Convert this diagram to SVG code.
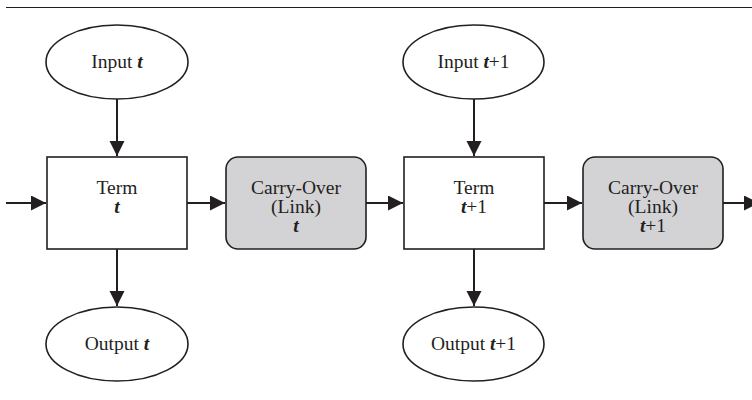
<svg xmlns="http://www.w3.org/2000/svg" width="752" height="400" viewBox="0 0 752 400">
<defs>
<marker id="ah" markerUnits="userSpaceOnUse" markerWidth="16" markerHeight="16" refX="15" refY="7.5" orient="auto">
<path d="M0,0 L15,7.5 L0,15 Z" fill="#231f20"/>
</marker>
<style>
.node{fill:#fff;stroke:#231f20;stroke-width:1.6}
.link{fill:#d3d3d5;stroke:#231f20;stroke-width:1.6}
.lbl{font-family:"Liberation Serif",serif;font-size:19.5px;fill:#231f20;text-anchor:middle}
.v{font-weight:bold;font-style:italic}
.conn line{stroke:#231f20;stroke-width:2;marker-end:url(#ah)}
</style>
</defs>
<rect width="752" height="400" fill="#fff"/>
<line x1="6" y1="7.5" x2="752" y2="7.5" stroke="#231f20" stroke-width="1.2"/>
<g id="input-t"><ellipse class="node" cx="117" cy="62" rx="71" ry="37"/><text class="lbl" x="117" y="68">Input <tspan class="v">t</tspan></text></g>
<g id="input-t1"><ellipse class="node" cx="473.5" cy="62" rx="70.5" ry="37"/><text class="lbl" x="473.5" y="68">Input <tspan class="v">t</tspan>+1</text></g>
<g id="term-t"><rect class="node" x="47" y="157" width="140" height="92"/><text class="lbl" x="117" y="194">Term</text><text class="lbl v" x="117" y="213">t</text></g>
<g id="carry-t"><rect class="link" x="226" y="157" width="140" height="92" rx="12"/><text class="lbl" x="296" y="194">Carry-Over</text><text class="lbl" x="296" y="213">(Link)</text><text class="lbl v" x="296" y="232">t</text></g>
<g id="term-t1"><rect class="node" x="404" y="157" width="140" height="92"/><text class="lbl" x="474" y="194">Term</text><text class="lbl" x="474" y="213"><tspan class="v">t</tspan>+1</text></g>
<g id="carry-t1"><rect class="link" x="583" y="157" width="140" height="92" rx="12"/><text class="lbl" x="653" y="194">Carry-Over</text><text class="lbl" x="653" y="213">(Link)</text><text class="lbl" x="653" y="232"><tspan class="v">t</tspan>+1</text></g>
<g id="output-t"><ellipse class="node" cx="117" cy="344" rx="71" ry="37"/><text class="lbl" x="117" y="350">Output <tspan class="v">t</tspan></text></g>
<g id="output-t1"><ellipse class="node" cx="473.5" cy="344" rx="70.5" ry="37"/><text class="lbl" x="473.5" y="350">Output <tspan class="v">t</tspan>+1</text></g>
<g class="conn" id="connectors">
<line x1="117" y1="99" x2="117" y2="156"/>
<line x1="117" y1="249" x2="117" y2="306"/>
<line x1="474" y1="99" x2="474" y2="156"/>
<line x1="474" y1="249" x2="474" y2="306"/>
<line x1="6" y1="203" x2="46" y2="203"/>
<line x1="187" y1="203" x2="225" y2="203"/>
<line x1="366" y1="203" x2="403" y2="203"/>
<line x1="544" y1="203" x2="582" y2="203"/>
<line x1="723" y1="203" x2="759" y2="203"/>
</g>
</svg>
